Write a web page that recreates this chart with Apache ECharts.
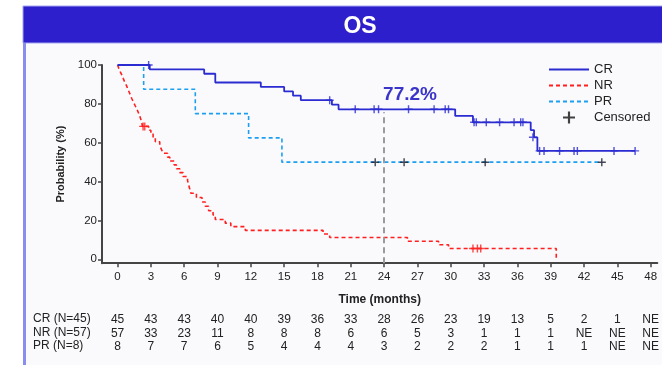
<!DOCTYPE html>
<html>
<head>
<meta charset="utf-8">
<script src="https://cdn.jsdelivr.net/npm/echarts@6/dist/echarts.min.js"></script>
<style>html,body{margin:0;padding:0;background:#fff}#c{width:662px;height:365px}</style>
</head>
<body>
<div id="c"></div>
<script>
// ---- data ----
const months = [0,3,6,9,12,15,18,21,24,27,30,33,36,39,42,45,48];
const riskCR = ['45','43','43','40','40','39','36','33','28','26','23','19','13','5','2','1','NE'];
const riskNR = ['57','33','23','11','8','8','8','6','6','5','3','1','1','1','NE','NE','NE'];
const riskPR = ['8','7','7','6','5','4','4','4','3','2','2','2','1','1','1','NE','NE'];
const yTicks = [0,20,40,60,80,100];

const crCurve = [[0,100],[2.9,97.7],[7.8,95.5],[8.8,91.0],[12.9,88.7],[15.0,86.4],[15.8,84.2],[16.5,81.9],
  [19.3,79.6],[19.9,77.2],[30.4,73.8],[32.0,70.5],[37.2,66.5],[37.5,62.8],[37.8,55.8],[46.6,55.8]];
const crCensored = [[2.8,100],[19.1,81.9],[21.4,77.2],[23.1,77.2],[23.5,77.2],[26.2,77.2],[28.5,77.2],[29.5,77.2],[29.8,77.2],
  [32.1,70.5],[32.3,70.5],[33.2,70.5],[34.4,70.5],[35.7,70.5],[36.3,70.5],[36.5,70.5],[37.4,62.8],
  [38.0,55.8],[38.4,55.8],[39.8,55.8],[41.1,55.8],[41.4,55.8],[44.7,55.8],[46.6,55.8]];

const nrCurve = [[0,100],[0.12,98.2],[0.25,96.5],[0.4,94.7],[0.52,93.0],[0.65,91.2],[0.8,89.5],[0.92,87.7],[1.05,86.0],
  [1.18,84.2],[1.3,82.5],[1.45,80.7],[1.6,78.9],[1.75,77.2],[1.88,75.4],[2.0,73.7],[2.1,71.9],[2.18,70.2],[2.25,68.4],
  [2.8,66.4],[3.0,64.5],[3.2,62.5],[3.4,60.5],[3.8,58.6],[3.95,56.6],[4.1,54.6],[4.5,52.6],[4.7,50.6],[5.1,48.6],
  [5.3,46.6],[5.6,44.6],[5.9,42.6],[6.3,40.6],[6.4,38.4],[6.5,36.2],[6.6,34.0],[7.1,31.8],[7.6,29.5],[7.9,27.3],
  [8.2,25.0],[8.6,22.8],[8.8,20.5],[9.7,18.6],[10.2,16.8],[11.5,14.9],[18.5,13.0],[19.1,11.2],[26.1,9.3],
  [28.9,7.5],[29.8,5.6],[39.5,0]];
const nrCensored = [[2.3,68.4],[2.45,68.4],[32.0,5.6],[32.4,5.6],[32.7,5.6]];

const prCurve = [[0,100],[2.35,87.5],[7.0,75.0],[11.8,62.5],[14.8,50.0],[43.6,50.0]];
const prCensored = [[23.2,50],[25.8,50],[33.1,50],[43.6,50]];

const milestoneMonth = 24;
const milestonePct = 77.2;

// ---- chart ----
const plus = 'path://M-0.9,-5H0.9V-0.9H5V0.9H0.9V5H-0.9V0.9H-5V-0.9H-0.9Z';
const font = 'Liberation Sans, Arial, sans-serif';
const cBlue = '#2b2bd2', cRed = '#ff1f1f', cLight = '#1c9ff0';

const chart = echarts.init(document.getElementById('c'));
chart.setOption({
  animation: false,
  backgroundColor: '#ffffff',
  textStyle: {fontFamily: font},
  title: {
    text: 'OS', left: 355, top: 10, textAlign: 'center',
    textStyle: {color: '#ffffff', fontSize: 23, fontWeight: 'bold', fontFamily: font}
  },
  graphic: [
    {type: 'rect', z: -20, shape: {x: 26, y: 43, width: 636, height: 322}, style: {fill: '#fafafd'}},
    {type: 'rect', z: -19, shape: {x: 23, y: 6, width: 640, height: 37}, style: {fill: '#2e1fcc', stroke: '#a4a6f2', lineWidth: 1}},
    {type: 'rect', z: -19, shape: {x: 23, y: 43, width: 3, height: 322}, style: {fill: '#8a8df0'}},
    {type: 'text', z: 5, left: 33, top: 312, style: {
      text: 'CR (N=45)\nNR (N=57)\nPR (N=8)', fill: '#222', font: '12px ' + font, lineHeight: 13.5}}
  ],
  legend: {
    orient: 'vertical', left: 543, top: 58, itemGap: 3,
    itemWidth: 40, itemHeight: 12,
    textStyle: {fontSize: 13, color: '#222', fontFamily: font},
    data: [
      {name: 'CR', itemStyle: {opacity: 0}},
      {name: 'NR', itemStyle: {opacity: 0}},
      {name: 'PR', itemStyle: {opacity: 0}},
      {name: 'Censored', icon: plus}
    ]
  },
  grid: {left: 102, right: 0, top: 65, bottom: 101.8, containLabel: false},
  xAxis: [{
    type: 'value', min: -1.4, max: 48.6,
    name: 'Time (months)', nameLocation: 'middle', nameGap: 30,
    nameTextStyle: {fontWeight: 'bold', fontSize: 12, color: '#222'},
    axisLine: {onZero: false, lineStyle: {color: '#444', width: 2}},
    axisTick: {customValues: months, length: 4, lineStyle: {color: '#444', width: 1.5}},
    axisLabel: {customValues: months, fontSize: 11.5, color: '#222', margin: 8},
    splitLine: {show: false}
  }, {
    type: 'value', min: -1.4, max: 48.6, position: 'bottom', offset: 42,
    axisLine: {show: false}, axisTick: {show: false}, splitLine: {show: false},
    axisLabel: {
      customValues: months, margin: 8, fontSize: 12, color: '#222', lineHeight: 13.5,
      formatter: function (v) { const i = months.indexOf(v); return riskCR[i] + '\n' + riskNR[i] + '\n' + riskPR[i]; }
    }
  }],
  yAxis: {
    type: 'value', min: -2, max: 100,
    name: 'Probability (%)', nameLocation: 'middle', nameGap: 29,
    nameTextStyle: {fontWeight: 'bold', fontSize: 11, color: '#222'},
    axisLine: {onZero: false, lineStyle: {color: '#444', width: 2}},
    axisTick: {customValues: yTicks, length: 4, lineStyle: {color: '#444', width: 1.5}},
    axisLabel: {customValues: yTicks, fontSize: 11.5, color: '#222', margin: 5},
    splitLine: {show: false}
  },
  series: [
    {
      name: 'CR', type: 'line', step: 'end', data: crCurve, showSymbol: false, symbol: 'none',
      color: cBlue, lineStyle: {color: cBlue, width: 1.8}, z: 4,
      markLine: {
        silent: true, symbol: 'none', label: {show: false},
        lineStyle: {color: '#9b9b9b', type: [6, 4], width: 2},
        data: [[{coord: [milestoneMonth, -2]}, {coord: [milestoneMonth, milestonePct - 1.5]}]]
      },
      markPoint: {
        silent: true,
        data: [{coord: [milestoneMonth, milestonePct], symbol: 'circle', symbolSize: 0,
          label: {show: true, formatter: milestonePct + '%', position: 'right', offset: [-6, -15],
            color: '#3a35c8', fontSize: 19, fontWeight: 'bold', fontFamily: font}}]
      }
    },
    {
      name: 'NR', type: 'line', step: 'end', data: nrCurve, showSymbol: false, symbol: 'none',
      color: cRed, lineStyle: {color: cRed, width: 1.6, type: [4, 3]}, z: 3
    },
    {
      name: 'PR', type: 'line', step: 'end', data: prCurve, showSymbol: false, symbol: 'none',
      color: cLight, lineStyle: {color: cLight, width: 1.6, type: [4, 3]}, z: 3
    },
    {name: 'CR censored', type: 'scatter', data: crCensored, symbol: plus, symbolSize: 8, itemStyle: {color: cBlue}, z: 5},
    {name: 'NR censored', type: 'scatter', data: nrCensored, symbol: plus, symbolSize: 8, itemStyle: {color: cRed}, z: 5},
    {name: 'PR censored', type: 'scatter', data: prCensored, symbol: plus, symbolSize: 8, itemStyle: {color: '#1a1a2a'}, z: 5},
    {name: 'Censored', type: 'scatter', data: [], symbol: plus, itemStyle: {color: '#111'}}
  ]
});
</script>
</body>
</html>
